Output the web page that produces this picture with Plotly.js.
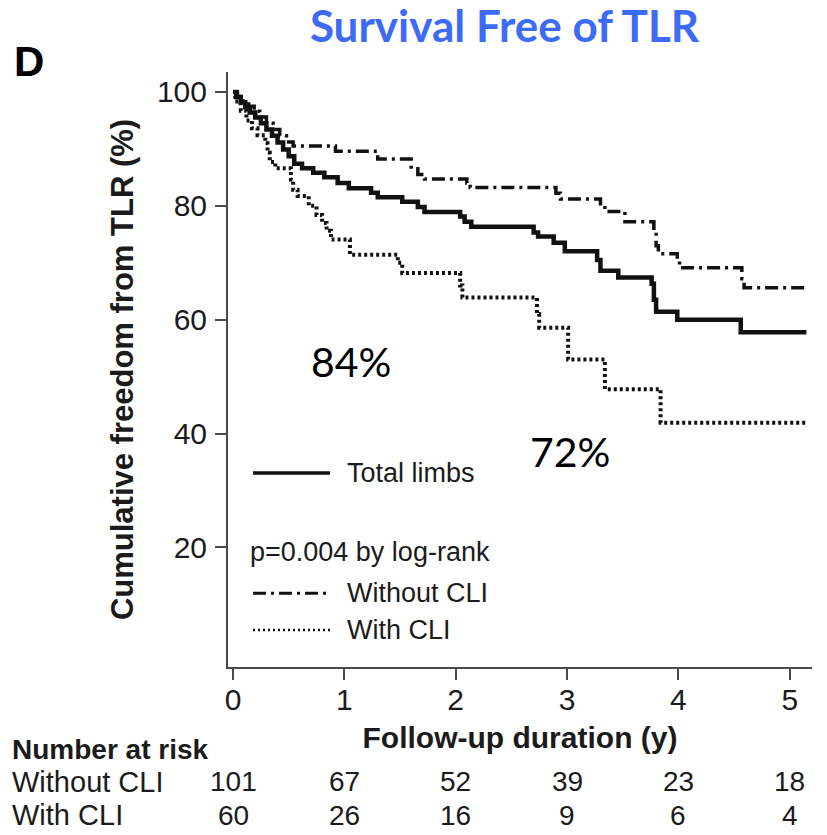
<!DOCTYPE html>
<html>
<head>
<meta charset="utf-8">
<script src="https://cdn.plot.ly/plotly-3.0.1.min.js"></script>
<style>
  html, body { margin: 0; padding: 0; background: #ffffff; }
  #chart { width: 827px; height: 835px; }
</style>
</head>
<body>
<div id="chart"></div>
<script>
// Kaplan-Meier estimates of freedom from target lesion revascularisation (%)
const totalYears = [0, 0.03, 0.07, 0.11, 0.15, 0.20, 0.25, 0.30, 0.35, 0.40, 0.45, 0.50, 0.55, 0.62, 0.72, 0.82, 0.94, 1.04, 1.24, 1.30, 1.52, 1.66, 1.72, 2.04, 2.08, 2.14, 2.70, 2.74, 2.88, 2.98, 3.27, 3.30, 3.46, 3.76, 3.78, 3.80, 3.99, 4.56, 5.15];
const totalFree  = [100, 99.1, 98.2, 97.3, 96.4, 95.5, 94.5, 93.4, 92.3, 91.1, 89.9, 88.7, 87.4, 86.6, 85.8, 85.0, 84.0, 83.1, 82.3, 81.5, 80.7, 79.8, 78.9, 78.1, 77.2, 76.3, 75.3, 74.6, 73.5, 72.0, 70.5, 68.6, 67.4, 66.3, 63.5, 61.4, 60.0, 57.8, 57.8];

const withoutYears = [0, 0.04, 0.09, 0.14, 0.19, 0.24, 0.30, 0.36, 0.42, 0.48, 0.54, 0.92, 1.30, 1.60, 1.66, 1.72, 2.10, 2.13, 2.90, 2.94, 3.30, 3.34, 3.52, 3.78, 3.80, 3.82, 3.99, 4.01, 4.57, 4.59, 5.15];
const withoutFree  = [100, 99.2, 98.4, 97.5, 96.6, 95.6, 94.5, 93.4, 92.3, 91.2, 90.5, 89.6, 88.2, 86.5, 85.5, 84.7, 84.0, 83.2, 82.2, 81.2, 80.0, 79.0, 77.2, 75.3, 73.0, 71.6, 70.3, 69.1, 67.2, 65.6, 65.6];

const withYears = [0, 0.02, 0.07, 0.12, 0.17, 0.22, 0.29, 0.31, 0.33, 0.38, 0.52, 0.54, 0.58, 0.68, 0.75, 0.80, 0.84, 0.88, 1.05, 1.48, 1.52, 2.04, 2.06, 2.73, 2.75, 3.01, 3.34, 3.84, 5.15];
const withFree  = [100, 98.3, 96.7, 95.0, 93.6, 92.4, 91.0, 89.3, 87.7, 86.6, 84.6, 82.8, 81.7, 80.0, 78.4, 77.0, 75.6, 74.1, 71.4, 70.0, 68.2, 66.0, 63.9, 61.0, 58.6, 53.0, 47.8, 41.9, 41.9];

// Number-at-risk table
const riskYears   = [0, 1, 2, 3, 4, 5];
const riskWithout = [101, 67, 52, 39, 23, 18];
const riskWith    = [60, 26, 16, 9, 6, 4];

const yTicks = [20, 40, 60, 80, 100];

// Survival labels at 1 and 3 years (total limbs)
const pctLabels = ['84%', '72%'];

const ink = '#1b1b1b';
const axisInk = '#4a4a4a';
const arial = 'Liberation Sans, Arial, sans-serif';

const traces = [
  { x: totalYears, y: totalFree, name: 'Total limbs', mode: 'lines',
    line: { shape: 'hv', color: '#111111', width: 4.5 } },
  { x: withoutYears, y: withoutFree, name: 'Without CLI', mode: 'lines',
    line: { shape: 'hv', color: '#111111', width: 3.5, dash: '13px,5px,3px,5px' } },
  { x: withYears, y: withFree, name: 'With CLI', mode: 'lines',
    line: { shape: 'hv', color: '#111111', width: 4, dash: '3px,3px' } }
];

const annotations = [];

// risk table rows
annotations.push({ xref: 'paper', yref: 'paper', x: -0.373, y: -0.138, xanchor: 'left', yanchor: 'middle',
  text: '<b>Number at risk</b>', showarrow: false, font: { family: arial, size: 28, color: ink } });
annotations.push({ xref: 'paper', yref: 'paper', x: -0.373, y: -0.193, xanchor: 'left', yanchor: 'middle',
  text: 'Without CLI', showarrow: false, font: { family: arial, size: 29, color: ink } });
annotations.push({ xref: 'paper', yref: 'paper', x: -0.373, y: -0.249, xanchor: 'left', yanchor: 'middle',
  text: 'With CLI', showarrow: false, font: { family: arial, size: 29, color: ink } });
riskYears.forEach(function (t, i) {
  annotations.push({ xref: 'x', yref: 'paper', x: t, y: -0.193, xanchor: 'center', yanchor: 'middle',
    text: String(riskWithout[i]), showarrow: false, font: { family: arial, size: 28, color: ink } });
  annotations.push({ xref: 'x', yref: 'paper', x: t, y: -0.249, xanchor: 'center', yanchor: 'middle',
    text: String(riskWith[i]), showarrow: false, font: { family: arial, size: 28, color: ink } });
});

// legend text and log-rank result
annotations.push({ xref: 'paper', yref: 'paper', x: 0.2007, y: 0.326, xanchor: 'left', yanchor: 'middle',
  text: 'Total limbs', showarrow: false, font: { family: arial, size: 27, color: ink } });
annotations.push({ xref: 'paper', yref: 'paper', x: 0.0342, y: 0.193, xanchor: 'left', yanchor: 'middle',
  text: 'p=0.004 by log-rank', showarrow: false, font: { family: arial, size: 27, color: ink } });
annotations.push({ xref: 'paper', yref: 'paper', x: 0.2007, y: 0.124, xanchor: 'left', yanchor: 'middle',
  text: 'Without CLI', showarrow: false, font: { family: arial, size: 27, color: ink } });
annotations.push({ xref: 'paper', yref: 'paper', x: 0.2007, y: 0.062, xanchor: 'left', yanchor: 'middle',
  text: 'With CLI', showarrow: false, font: { family: arial, size: 27, color: ink } });

// survival percentages
annotations.push({ xref: 'x', yref: 'y', x: 1.06, y: 52.6, xanchor: 'center', yanchor: 'middle',
  text: pctLabels[0], showarrow: false, font: { family: 'Lato, Open Sans, sans-serif', size: 41, color: '#000000' } });
annotations.push({ xref: 'x', yref: 'y', x: 3.03, y: 36.8, xanchor: 'center', yanchor: 'middle',
  text: pctLabels[1], showarrow: false, font: { family: 'Lato, Open Sans, sans-serif', size: 41, color: '#000000' } });

// panel letter
annotations.push({ xref: 'paper', yref: 'paper', x: -0.341, y: 1.017, xanchor: 'center', yanchor: 'middle',
  text: '<b>D</b>', showarrow: false, font: { family: arial, size: 42, color: '#000000' } });

// legend line samples
const shapes = [
  { type: 'line', xref: 'paper', yref: 'paper', x0: 0.0428, x1: 0.1747, y0: 0.326, y1: 0.326,
    line: { color: '#111111', width: 3.5 } },
  { type: 'line', xref: 'paper', yref: 'paper', x0: 0.0428, x1: 0.1747, y0: 0.124, y1: 0.124,
    line: { color: '#111111', width: 3, dash: '13px,5px,3px,5px' } },
  { type: 'line', xref: 'paper', yref: 'paper', x0: 0.0428, x1: 0.1747, y0: 0.062, y1: 0.062,
    line: { color: '#111111', width: 2.5, dash: '2px,3px' } }
];

const layout = {
  width: 827,
  height: 835,
  margin: { l: 228, r: 15, t: 72, b: 168 },
  paper_bgcolor: '#ffffff',
  plot_bgcolor: '#ffffff',
  showlegend: false,
  title: {
    text: '<b>Survival Free of TLR</b>',
    font: { family: 'Lato, Open Sans, sans-serif', size: 44, color: '#3d6bf5' },
    xref: 'container', yref: 'container', x: 0.61, y: 0.968, xanchor: 'center', yanchor: 'middle'
  },
  xaxis: {
    range: [-0.045, 5.2],
    tickvals: riskYears,
    ticks: 'outside', ticklen: 11, tickwidth: 2, tickcolor: axisInk,
    ticklabelstandoff: -6,
    showline: true, linecolor: axisInk, linewidth: 2,
    showgrid: false, zeroline: false,
    tickfont: { family: arial, size: 30, color: ink },
    title: { text: '<b>Follow-up duration (y)</b>', font: { family: arial, size: 30, color: ink }, standoff: 12 }
  },
  yaxis: {
    range: [-1, 103.5],
    tickvals: yTicks,
    ticks: 'outside', ticklen: 11, tickwidth: 2, tickcolor: axisInk,
    ticklabelstandoff: 2,
    showline: true, linecolor: axisInk, linewidth: 2,
    showgrid: false, zeroline: false,
    tickfont: { family: arial, size: 30, color: ink },
    title: { text: '<b>Cumulative freedom from TLR (%)</b>', font: { family: arial, size: 31, color: ink }, standoff: 14 }
  },
  annotations: annotations,
  shapes: shapes
};

Plotly.newPlot('chart', traces, layout, { staticPlot: true, displayModeBar: false });
</script>
</body>
</html>
